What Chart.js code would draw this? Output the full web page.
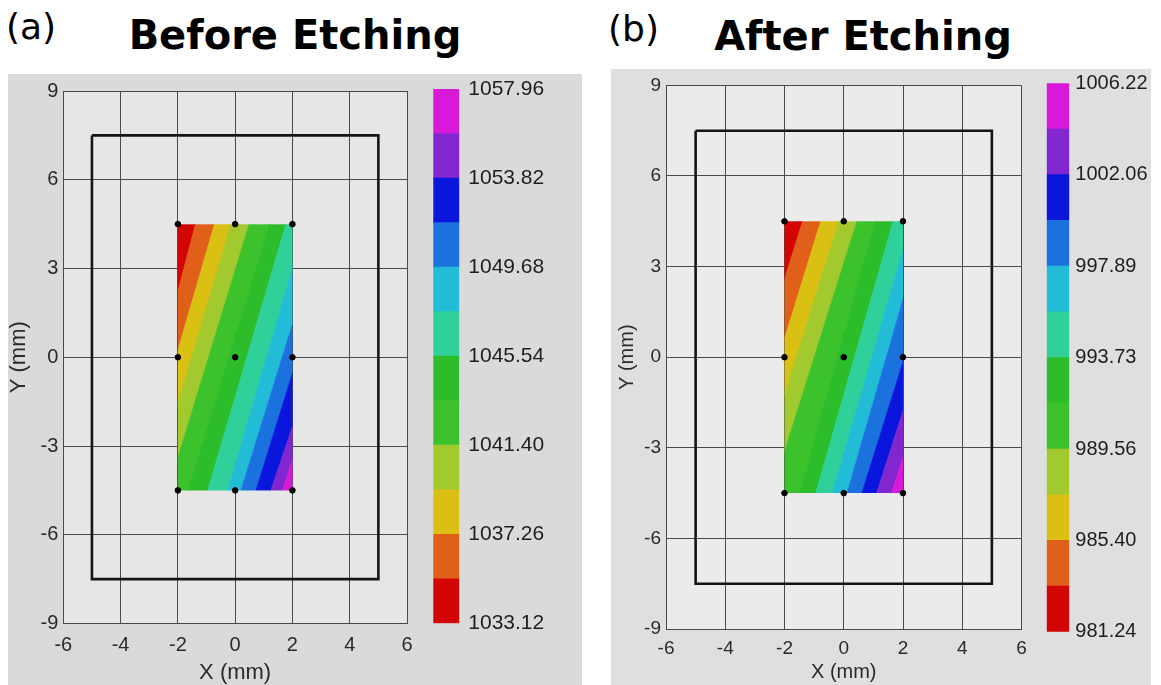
<!DOCTYPE html>
<html lang="en">
<head>
<meta charset="UTF-8">
<title>Before / After Etching</title>
<style>
  body { margin: 0; background: #fff; width: 1161px; height: 685px; position: relative; overflow: hidden; }
  .photo { position: absolute; }
  #photoA { left: 8px; top: 74px; width: 574px; height: 611px; background: #dadada; }
  #photoB { left: 611px; top: 69px; width: 540px; height: 616px; background: #dfdfdf; }
  canvas { position: absolute; }
  .lbl { position: absolute; font-family: "DejaVu Sans", sans-serif; color: #000; white-space: nowrap; }
  .big { font-weight: bold; font-size: 40px; transform: translateX(-50%); }
  .tag { font-size: 36px; }
</style>
</head>
<body>
<div class="photo" id="photoA"></div>
<div class="photo" id="photoB"></div>
<div class="lbl tag" style="left:6px; top:6px;">(a)</div>
<div class="lbl big" style="left:295px; top:12px;">Before Etching</div>
<div class="lbl tag" style="left:608px; top:8px;">(b)</div>
<div class="lbl big" style="left:863px; top:13px;">After Etching</div>

<canvas id="mapA" width="574" height="611" style="left:8px; top:74px;"></canvas>
<canvas id="barA" width="157" height="611" style="left:425px; top:74px;"></canvas>
<canvas id="mapB" width="540" height="616" style="left:611px; top:69px;"></canvas>
<canvas id="barB" width="111" height="616" style="left:1040px; top:69px;"></canvas>

<script src="https://cdn.jsdelivr.net/npm/chart.js"></script>
<script>
// colour of each band, lowest value first
const bandColors = ['#d20404', '#e0601a', '#d9c012', '#a2c92e', '#3cc22c', '#2dbd2a',
                    '#2fd09a', '#22bcd6', '#1b72df', '#0a16dc', '#8226cf', '#d81ad8'];

// band edges (colour bar levels) for each panel
const levelsA = [1033.12, 1035.19, 1037.26, 1039.33, 1041.40, 1043.47, 1045.54,
                 1047.61, 1049.68, 1051.75, 1053.82, 1055.89, 1057.96];
const levelsB = [981.24, 983.32, 985.40, 987.48, 989.56, 991.65, 993.73,
                 995.81, 997.89, 999.98, 1002.06, 1004.14, 1006.22];
const tickLevelsA = [1033.12, 1037.26, 1041.40, 1045.54, 1049.68, 1053.82, 1057.96];
const tickLevelsB = [981.24, 985.40, 989.56, 993.73, 997.89, 1002.06, 1006.22];

// contour lines between bands: x where each crosses y = 4.5 (top) and y = -4.5 (bottom)
const topXA = [-1.385, -0.725, -0.145, 0.49, 1.19, 1.77, 2.45, 3.08, 3.62, 4.4, 4.7];
const botXA = [-3.83, -3.41, -2.90, -2.35, -1.65, -0.957, -0.261, 0.203, 0.725, 1.246, 1.65];
const topXB = [-1.389, -0.778, -0.167, 0.444, 1.056, 1.667, 2.28, 2.76, 3.48, 4.06, 4.58];
const botXB = [-4.26, -3.61, -3.04, -2.44, -1.5, -0.944, -0.389, 0.111, 0.611, 1.111, 1.611];

// measured region and its probe points
const regionX = [-2, 2];
const regionY = [-4.5, 4.5];
const probeX = [-2, 0, 2, -2, 0, 2, -2, 0, 2];
const probeY = [4.5, 4.5, 4.5, 0, 0, 0, -4.5, -4.5, -4.5];

// sample outline
const outlineX = [-5, 5, 5, -5, -5];
const outlineY = [7.5, 7.5, -7.5, -7.5, 7.5];

const FONT = '"Liberation Sans", Arial, sans-serif';

const plotBg = {
  id: 'plotBg',
  beforeDraw(chart, args, opts) {
    const a = chart.chartArea, ctx = chart.ctx;
    ctx.save();
    ctx.fillStyle = opts.color;
    ctx.fillRect(a.left, a.top, a.right - a.left, a.bottom - a.top);
    ctx.restore();
  }
};

const contourBands = {
  id: 'contourBands',
  beforeDatasetsDraw(chart, args, opts) {
    const xs = chart.scales.x, ys = chart.scales.y, ctx = chart.ctx;
    const px = v => xs.getPixelForValue(v), py = v => ys.getPixelForValue(v);
    const x0 = px(regionX[0]), x1 = px(regionX[1]);
    const yT = py(regionY[1]), yB = py(regionY[0]);
    ctx.save();
    ctx.beginPath();
    ctx.rect(x0, yT, x1 - x0, yB - yT);
    ctx.clip();
    const tops = [-100, ...opts.topX, 100];
    const bots = [-100, ...opts.botX, 100];
    for (let k = 0; k < bandColors.length; k++) {
      ctx.beginPath();
      ctx.moveTo(px(tops[k]), yT);
      ctx.lineTo(px(tops[k + 1]), yT);
      ctx.lineTo(px(bots[k + 1]), yB);
      ctx.lineTo(px(bots[k]), yB);
      ctx.closePath();
      ctx.fillStyle = bandColors[k];
      ctx.strokeStyle = bandColors[k];
      ctx.lineWidth = 0.6;
      ctx.fill();
      ctx.stroke();
    }
    ctx.restore();
  }
};

function makeMap(id, cfg) {
  new Chart(document.getElementById(id), {
    type: 'scatter',
    data: {
      datasets: [
        {
          data: probeX.map((x, i) => ({x: x, y: probeY[i]})),
          backgroundColor: '#000', borderColor: '#000', pointRadius: 2.8
        },
        {
          data: outlineX.map((x, i) => ({x: x, y: outlineY[i]})),
          showLine: true, borderColor: '#141414', borderWidth: 2.6, pointRadius: 0, fill: false
        }
      ]
    },
    options: {
      responsive: false,
      animation: false,
      layout: {padding: {top: cfg.padTop, right: cfg.padRight, left: 0, bottom: 0}},
      plugins: {
        legend: {display: false},
        tooltip: {enabled: false},
        plotBg: {color: cfg.inner},
        contourBands: {topX: cfg.topX, botX: cfg.botX}
      },
      scales: {
        x: {
          type: 'linear', min: -6, max: 6,
          ticks: {stepSize: 2, color: '#2a2a2a', padding: cfg.xPad, font: {family: FONT, size: cfg.tick}},
          grid: {color: '#4a4a4a', lineWidth: 1, drawTicks: false},
          border: {color: '#4a4a4a'},
          title: {display: true, text: 'X (mm)', color: '#2a2a2a',
                  font: {family: FONT, size: cfg.title, lineHeight: 1}, padding: {top: 0, bottom: cfg.xTitlePad}},
          afterFit: s => { s.height = cfg.xH; }
        },
        y: {
          type: 'linear', min: -9, max: 9,
          ticks: {stepSize: 3, color: '#2a2a2a', padding: 5, font: {family: FONT, size: cfg.tick}},
          grid: {color: '#4a4a4a', lineWidth: 1, drawTicks: false},
          border: {color: '#4a4a4a'},
          title: {display: true, text: 'Y (mm)', color: '#2a2a2a',
                  font: {family: FONT, size: cfg.title, lineHeight: 1}, padding: {top: cfg.yTitlePad, bottom: 0}},
          afterFit: s => { s.width = cfg.yW; }
        }
      }
    },
    plugins: [plotBg, contourBands]
  });
}

function makeBar(id, levels, ticks, cfg) {
  new Chart(document.getElementById(id), {
    type: 'bar',
    data: {
      labels: [''],
      datasets: bandColors.map((c, i) => ({
        data: [[levels[i], levels[i + 1]]],
        backgroundColor: c,
        borderWidth: 0,
        barPercentage: 1,
        categoryPercentage: 1,
        grouped: false
      }))
    },
    options: {
      responsive: false,
      animation: false,
      layout: {padding: {left: cfg.padLeft, top: cfg.padTop, bottom: cfg.padBottom, right: 0}},
      plugins: {legend: {display: false}, tooltip: {enabled: false}},
      scales: {
        x: {display: false},
        y: {
          position: 'right',
          min: levels[0], max: levels[levels.length - 1],
          // ticks hidden, tick length only used to push the labels off the bar
          grid: {display: false, drawTicks: true, tickLength: cfg.gap - 3},
          border: {display: false},
          afterBuildTicks: s => { s.ticks = ticks.map(v => ({value: v})); },
          ticks: {
            autoSkip: false, color: '#1e1e1e', padding: 3,
            font: {family: FONT, size: cfg.font, lineHeight: 1},
            callback: v => Number(v).toFixed(2)
          },
          afterFit: s => { s.width = cfg.axisW; }
        }
      }
    }
  });
}

makeMap('mapA', {topX: topXA, botX: botXA, inner: '#e6e6e6', padTop: 15.3, padRight: 175,
                 xH: 61.5, yW: 55.3, tick: 20, title: 22, xPad: 9.5, xTitlePad: 1, yTitlePad: 0});
makeMap('mapB', {topX: topXB, botX: botXB, inner: '#ebebeb', padTop: 16, padRight: 129.5,
                 xH: 56, yW: 55, tick: 19, title: 20, xPad: 8.6, xTitlePad: 3, yTitlePad: 6});
makeBar('barA', levelsA, tickLevelsA, {padLeft: 8.3, padTop: 15, padBottom: 61.7, axisW: 122.7, gap: 9, font: 21});
makeBar('barB', levelsB, tickLevelsB, {padLeft: 6.7, padTop: 14.3, padBottom: 53.3, axisW: 81.7, gap: 6, font: 20});
</script>
</body>
</html>
